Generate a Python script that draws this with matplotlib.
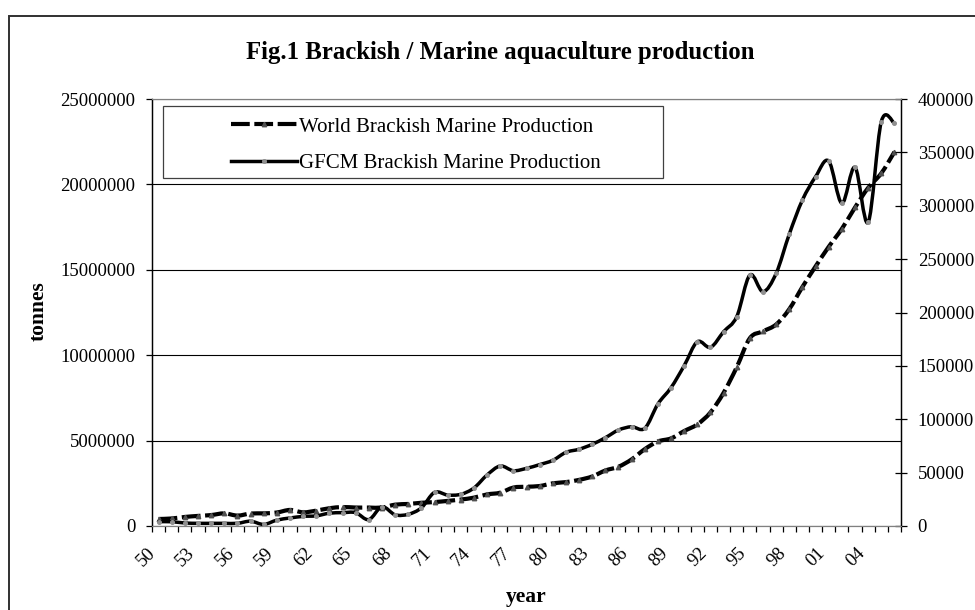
import numpy as np
import matplotlib
matplotlib.use('Agg')
import matplotlib.pyplot as plt
import matplotlib.transforms as mtransforms
from matplotlib.path import Path
from matplotlib.patches import PathPatch, Rectangle
from matplotlib.lines import Line2D

plt.rcParams['font.family'] = ['Liberation Serif', 'DejaVu Serif']

# Data
years = list(range(1950, 2007))
# world brackish / marine production, million tonnes (left axis)
world_mt = [0.41, 0.44, 0.53, 0.59, 0.64, 0.74, 0.61, 0.73, 0.74, 0.79,
            0.94, 0.80, 0.90, 1.04, 1.11, 1.08, 1.08, 1.08, 1.25, 1.29,
            1.36, 1.40, 1.47, 1.55, 1.66, 1.85, 1.95, 2.25, 2.30, 2.34,
            2.50, 2.57, 2.70, 2.90, 3.25, 3.47, 3.90, 4.50, 4.95, 5.13,
            5.56, 5.95, 6.65, 7.80, 9.30, 11.0, 11.4, 11.8, 12.7, 14.0,
            15.2, 16.35, 17.4, 18.65, 19.8, 20.65, 21.9]
# GFCM brackish / marine production, tonnes (right axis)
gfcm_t = [4000, 4000, 2800, 2500, 2500, 2500, 2500, 4500, 1500, 5500,
          7500, 9000, 9500, 12000, 12500, 12500, 6000, 18000, 10500, 11000,
          17000, 31500, 29000, 29700, 35600, 47800, 56200, 51800, 54000, 57500,
          61500, 69000, 71900, 76500, 82700, 89900, 93000, 91500, 114300, 129600,
          150200, 172600, 167400, 182000, 196100, 235100, 219500, 236700, 273500, 305400,
          327200, 341900, 302300, 336000, 284500, 378700, 377200]

left_ticks = [0, 5000000, 10000000, 15000000, 20000000, 25000000]
right_ticks = [0, 50000, 100000, 150000, 200000, 250000, 300000, 350000, 400000]


def smooth_path(x, y):
    # excel style smoothed line: cubic bezier through every point
    x = np.asarray(x, float)
    y = np.asarray(y, float)
    n = len(x)
    verts = [(x[0], y[0])]
    codes = [Path.MOVETO]
    for i in range(n - 1):
        a = max(i - 1, 0)
        b = min(i + 2, n - 1)
        c1 = (x[i] + (x[i + 1] - x[a]) / 6, y[i] + (y[i + 1] - y[a]) / 6)
        c2 = (x[i + 1] - (x[b] - x[i]) / 6, y[i + 1] - (y[b] - y[i]) / 6)
        verts += [c1, c2, (x[i + 1], y[i + 1])]
        codes += [Path.CURVE4] * 3
    return Path(verts, codes)


fs = 13.5
fig = plt.figure(figsize=(9.75, 6.1), dpi=100)
ax = fig.add_axes([152 / 975, 1 - 526 / 610, 749 / 975, 427 / 610])
ax2 = ax.twinx()

xs = np.arange(len(years))
world_t = np.array(world_mt) * 1e6

ax.add_patch(PathPatch(smooth_path(xs, world_t), fill=False, lw=3.0, color='black',
                       linestyle=(0, (4.5, 1.1)), capstyle='butt', zorder=3))
ax.plot(xs, world_t, linestyle='none', marker='^', ms=3.2, color='#505050', zorder=4)

ax2.add_patch(PathPatch(smooth_path(xs, gfcm_t), fill=False, lw=2.5, color='black',
                        capstyle='round', joinstyle='round', zorder=3))
ax2.plot(xs, gfcm_t, linestyle='none', marker='o', ms=2.6, color='#909090', zorder=4)

# axes
ax.set_xlim(-0.5, len(years) - 0.5)
ax.set_ylim(0, 25000000)
ax2.set_ylim(0, 400000)
ax.set_yticks(left_ticks)
ax.set_yticklabels([str(v) for v in left_ticks])
ax2.set_yticks(right_ticks)
ax2.set_yticklabels([str(v) for v in right_ticks])

ax.set_xticks(xs[::3])
ax.set_xticklabels(['%02d' % (y % 100) for y in years[::3]], rotation=45,
                   ha='right', va='center', rotation_mode='anchor')
ax.set_xticks(np.arange(-0.5, len(years), 1), minor=True)
ax.tick_params(axis='x', which='major', length=0, pad=18, labelsize=fs)
ax.tick_params(axis='x', which='minor', length=4.5, width=0.9, direction='out')
ax.tick_params(axis='y', length=4.5, width=0.9, direction='out', pad=7.5, labelsize=fs)
ax2.tick_params(axis='y', length=9, width=0.9, direction='inout', pad=7.5, labelsize=fs)
shift = mtransforms.ScaledTranslation(-6 / 100, 0, fig.dpi_scale_trans)
for lab in ax.get_xticklabels():
    lab.set_transform(lab.get_transform() + shift)

ax.grid(axis='y', color='black', lw=0.8)
ax.set_axisbelow(True)
for a in (ax, ax2):
    a.spines['top'].set_color('#808080')
    a.spines['left'].set_linewidth(0.9)
    a.spines['right'].set_linewidth(0.9)
    a.spines['bottom'].set_color('#808080')

ax.set_ylabel('tonnes', fontsize=15.5, fontweight='bold', va='center')
ax.yaxis.set_label_coords((38.5 - 152) / 749, (526 - 311) / 427)
ax.set_xlabel('year', fontsize=15.5, fontweight='bold', va='center')
ax.xaxis.set_label_coords(0.5, (526 - 597) / 427)

fig.text(500 / 975, 1 - 52 / 610, 'Fig.1 Brackish / Marine aquaculture production',
         ha='center', va='center', fontsize=17.8, fontweight='bold')

# legend box like excel: wide frame, entries in the middle
fig.patches.append(Rectangle((163 / 975, 1 - 178 / 610), 500 / 975, 72 / 610,
                             transform=fig.transFigure, fill=True, facecolor='white',
                             edgecolor='#404040', lw=0.9, zorder=5))
handles = [Line2D([], [], color='black', lw=3.0, linestyle=(0, (4.5, 1.1)),
                  marker='^', ms=3.2, mfc='#505050', mec='#505050'),
           Line2D([], [], color='black', lw=2.5, marker='o', ms=2.6,
                  mfc='#909090', mec='#909090')]
leg = fig.legend(handles, ['World Brackish Marine Production', 'GFCM Brackish Marine Production'],
                 loc='upper left', bbox_to_anchor=(231 / 975, 1 - 117 / 610), frameon=False,
                 fontsize=15, handlelength=3.15, handletextpad=0.12, labelspacing=0.8,
                 borderpad=0, borderaxespad=0, numpoints=1)
leg.set_zorder(6)

# outer chart border
fig.patches.append(Rectangle((9 / 975, -0.1), 1.2, 1 - 16 / 610 + 0.1,
                             transform=fig.transFigure, fill=False,
                             edgecolor='#303030', lw=1.4))

fig.savefig('out.png', dpi=100)
